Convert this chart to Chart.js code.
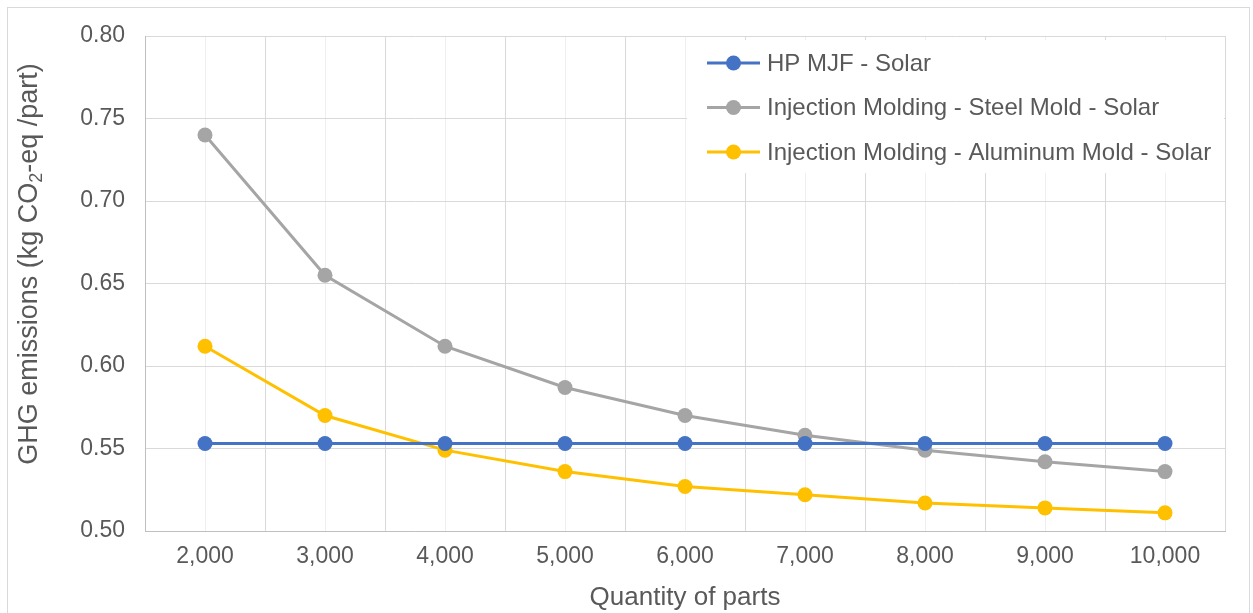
<!DOCTYPE html>
<html>
<head>
<meta charset="utf-8">
<script src="https://cdn.jsdelivr.net/npm/chart.js@4.4.1/dist/chart.umd.min.js"></script>
<style>
  html, body { margin: 0; padding: 0; background: #fff; }
  #wrap { position: relative; width: 1253px; height: 613px; }
</style>
</head>
<body>
<div id="wrap"><canvas id="ghgChart"></canvas></div>
<script>
const quantities = ["2,000", "3,000", "4,000", "5,000", "6,000", "7,000", "8,000", "9,000", "10,000"];
const hpMjfSolar = [0.553, 0.553, 0.553, 0.553, 0.553, 0.553, 0.553, 0.553, 0.553];
const steelMoldSolar = [0.740, 0.655, 0.612, 0.587, 0.570, 0.558, 0.549, 0.542, 0.536];
const aluminumMoldSolar = [0.612, 0.570, 0.549, 0.536, 0.527, 0.522, 0.517, 0.514, 0.511];
const yTicks = [0.50, 0.55, 0.60, 0.65, 0.70, 0.75, 0.80];

const textColor = "#595959";
const fontFamily = "'Liberation Sans', Arial, sans-serif";

const seriesStyle = (label, data, color) => ({
  label: label,
  data: data,
  borderColor: color,
  backgroundColor: color,
  borderWidth: 3,
  pointRadius: 7.5,
  pointHoverRadius: 7.5,
  pointBorderWidth: 0,
  tension: 0,
  fill: false,
});

// chart border + light gridlines at category centres
const backdrop = {
  id: "backdrop",
  beforeDraw(chart) {
    const { ctx, chartArea, scales } = chart;
    ctx.save();
    ctx.strokeStyle = "#d9d9d9";
    ctx.lineWidth = 1;
    ctx.strokeRect(7.5, 7.5, 1242, 640);
    ctx.strokeStyle = "#efefef";
    quantities.forEach((q, i) => {
      const x = Math.round(scales.x.getPixelForTick(i)) + 0.5;
      ctx.beginPath();
      ctx.moveTo(x, chartArea.top);
      ctx.lineTo(x, chartArea.bottom);
      ctx.stroke();
    });
    ctx.restore();
  },
};

// y title with subscript, and the legend box inside the plot
const overlay = {
  id: "overlay",
  beforeDatasetsDraw(chart) {
    const { ctx, chartArea } = chart;
    ctx.save();
    // y axis title
    ctx.fillStyle = textColor;
    ctx.translate(30, 264);
    ctx.rotate(-Math.PI / 2);
    ctx.textBaseline = "middle";
    const big = "27px " + fontFamily;
    const small = "18px " + fontFamily;
    const parts = [["GHG emissions (kg CO", big, 0], ["2", small, 7], ["-eq /part)", big, 0]];
    let total = 0;
    parts.forEach(([t, f]) => { ctx.font = f; total += ctx.measureText(t).width; });
    let x = -total / 2;
    parts.forEach(([t, f, dy]) => {
      ctx.font = f;
      ctx.fillText(t, x, dy);
      x += ctx.measureText(t).width;
    });
    ctx.restore();

    // legend
    ctx.save();
    ctx.fillStyle = "#fff";
    ctx.fillRect(687, 40, chartArea.right - 688, 133);
    ctx.font = "24px " + fontFamily;
    ctx.textBaseline = "middle";
    chart.data.datasets.forEach((ds, i) => {
      const y = 63 + i * 44.5;
      ctx.strokeStyle = ds.borderColor;
      ctx.lineWidth = 3;
      ctx.beginPath();
      ctx.moveTo(707, y);
      ctx.lineTo(760, y);
      ctx.stroke();
      ctx.fillStyle = ds.borderColor;
      ctx.beginPath();
      ctx.arc(733.5, y, 7.5, 0, Math.PI * 2);
      ctx.fill();
      ctx.fillStyle = textColor;
      ctx.fillText(ds.label, 767, y + 1);
    });
    ctx.restore();
  },
};

new Chart(document.getElementById("ghgChart"), {
  type: "line",
  data: {
    labels: quantities,
    datasets: [
      seriesStyle("HP MJF - Solar", hpMjfSolar, "#4472C4"),
      seriesStyle("Injection Molding - Steel Mold - Solar", steelMoldSolar, "#A5A5A5"),
      seriesStyle("Injection Molding - Aluminum Mold - Solar", aluminumMoldSolar, "#FFC000"),
    ],
  },
  options: {
    responsive: true,
    maintainAspectRatio: false,
    animation: false,
    layout: { padding: { top: 36, right: 28, left: 0, bottom: 0 } },
    plugins: {
      legend: { display: false },
      tooltip: { enabled: false },
    },
    scales: {
      x: {
        type: "category",
        offset: true,
        grid: { offset: true, color: "#d9d9d9", drawTicks: false },
        border: { color: "#bfbfbf", width: 1 },
        ticks: {
          color: textColor,
          font: { size: 23, family: fontFamily },
          padding: 12,
          maxRotation: 0,
        },
        title: {
          display: true,
          text: "Quantity of parts",
          color: textColor,
          font: { size: 26, family: fontFamily },
          padding: { top: 0, bottom: 0 },
        },
        afterFit(scale) { scale.height = 82; },
      },
      y: {
        min: 0.5,
        max: 0.8,
        afterBuildTicks(scale) { scale.ticks = yTicks.map((v) => ({ value: v })); },
        grid: { color: "#d9d9d9", drawTicks: false },
        border: { color: "#bfbfbf", width: 1 },
        ticks: {
          color: textColor,
          font: { size: 23, family: fontFamily },
          padding: 20,
          callback: (v) => v.toFixed(2),
        },
        afterFit(scale) { scale.width = 145; },
      },
    },
  },
  plugins: [backdrop, overlay],
});
</script>
</body>
</html>
